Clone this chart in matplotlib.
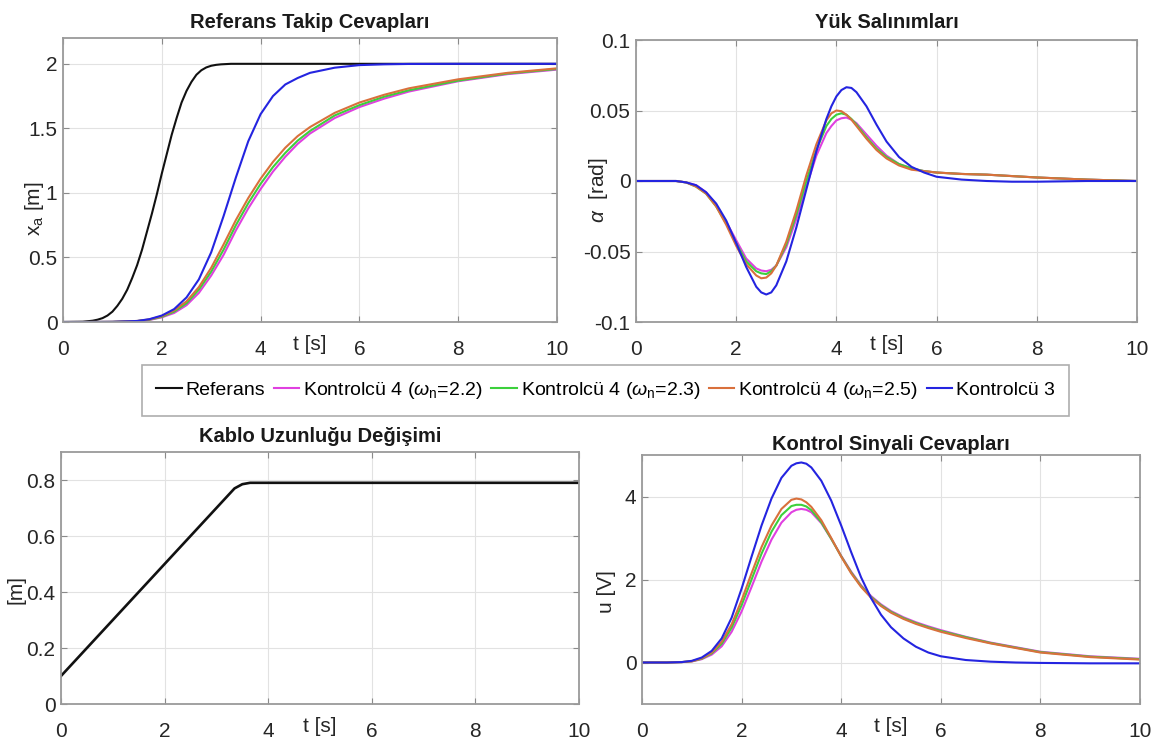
import matplotlib
matplotlib.use("Agg")
import matplotlib.pyplot as plt
from matplotlib.lines import Line2D

plt.rcParams['font.family'] = ['Liberation Sans', 'DejaVu Sans']
plt.rcParams['mathtext.fontset'] = 'custom'
plt.rcParams['mathtext.rm'] = 'Liberation Sans'
plt.rcParams['mathtext.it'] = 'Liberation Sans:italic'

# --- Referans takip (x_a) ---
t_ref = [0, 0.4, 0.6, 0.7, 0.8, 0.9, 1.0, 1.1, 1.2, 1.3, 1.4, 1.5, 1.6, 1.7, 1.8, 1.9, 2.0,
         2.1, 2.2, 2.3, 2.4, 2.5, 2.6, 2.7, 2.8, 2.9, 3.0, 3.1, 3.2, 3.4, 3.6, 10]
x_ref = [0, 0.002, 0.01, 0.018, 0.03, 0.05, 0.08, 0.125, 0.18, 0.25, 0.34, 0.44, 0.56, 0.7,
         0.84, 0.99, 1.15, 1.3, 1.45, 1.58, 1.7, 1.79, 1.86, 1.915, 1.95, 1.972, 1.985, 1.992,
         1.996, 2.0, 2.0, 2.0]

t_x = [0, 0.5, 1.0, 1.5, 1.75, 2.0, 2.25, 2.5, 2.75, 3.0, 3.25, 3.5, 3.75, 4.0, 4.25, 4.5,
       4.75, 5.0, 5.5, 6.0, 6.5, 7.0, 8.0, 9.0, 10]
x_k22 = [0, 0, 0.001, 0.006, 0.016, 0.036, 0.07, 0.13, 0.225, 0.36, 0.52, 0.71, 0.88, 1.03,
         1.165, 1.28, 1.38, 1.46, 1.58, 1.665, 1.73, 1.785, 1.865, 1.92, 1.955]
x_k23 = [0, 0, 0.001, 0.007, 0.018, 0.04, 0.08, 0.145, 0.25, 0.39, 0.56, 0.75, 0.92, 1.07,
         1.2, 1.31, 1.405, 1.48, 1.6, 1.68, 1.745, 1.795, 1.87, 1.925, 1.96]
x_k25 = [0, 0, 0.001, 0.008, 0.02, 0.045, 0.09, 0.16, 0.27, 0.42, 0.6, 0.79, 0.96, 1.11,
         1.24, 1.35, 1.44, 1.51, 1.62, 1.7, 1.76, 1.81, 1.88, 1.93, 1.965]
x_k3 = [0, 0, 0.001, 0.008, 0.022, 0.05, 0.1, 0.19, 0.33, 0.54, 0.82, 1.12, 1.4, 1.61,
        1.75, 1.84, 1.89, 1.93, 1.97, 1.99, 1.996, 1.999, 2.0, 2.0, 2.0]

# --- Yük salınımı (alpha) ---
t_a = [0, 0.5, 0.8, 1.0, 1.2, 1.4, 1.6, 1.8, 2.0, 2.2, 2.4, 2.5, 2.6, 2.7, 2.8, 3.0, 3.2,
       3.4, 3.6, 3.8, 3.9, 4.0, 4.1, 4.2, 4.3, 4.4, 4.6, 4.8, 5.0, 5.25, 5.5, 5.75, 6.0, 6.5,
       7.0, 7.5, 8.0, 9.0, 10]
a_k22 = [0, 0, 0, -0.001, -0.003, -0.008, -0.017, -0.029, -0.042, -0.055, -0.062, -0.0635,
         -0.064, -0.063, -0.06, -0.047, -0.027, -0.004, 0.018, 0.034, 0.039, 0.043, 0.0445,
         0.045, 0.0435, 0.041, 0.033, 0.025, 0.018, 0.012, 0.009, 0.007, 0.006, 0.005, 0.0045,
         0.0035, 0.0025, 0.001, 0]
a_k23 = [0, 0, 0, -0.001, -0.004, -0.009, -0.018, -0.03, -0.044, -0.057, -0.064, -0.0655,
         -0.066, -0.064, -0.06, -0.045, -0.024, 0.0, 0.022, 0.039, 0.044, 0.047, 0.048, 0.047,
         0.044, 0.04, 0.031, 0.023, 0.017, 0.012, 0.009, 0.007, 0.006, 0.005, 0.0045, 0.0035,
         0.0025, 0.001, 0]
a_k25 = [0, 0, 0, -0.001, -0.004, -0.009, -0.018, -0.031, -0.046, -0.059, -0.067, -0.069,
         -0.0685, -0.0655, -0.06, -0.043, -0.021, 0.004, 0.026, 0.043, 0.048, 0.05, 0.0495,
         0.047, 0.0435, 0.039, 0.03, 0.022, 0.016, 0.011, 0.008, 0.007, 0.006, 0.005, 0.0045,
         0.0035, 0.0025, 0.001, 0]
a_k3 = [0, 0, 0, -0.001, -0.003, -0.008, -0.016, -0.028, -0.044, -0.061, -0.075, -0.079,
        -0.0805, -0.079, -0.074, -0.057, -0.033, -0.006, 0.021, 0.044, 0.053, 0.06, 0.0645,
        0.0665, 0.066, 0.063, 0.053, 0.04, 0.028, 0.017, 0.01, 0.006, 0.003, 0.001, 0,
        -0.0005, -0.0005, 0, 0]

# --- Kablo uzunluğu ---
t_l = [0, 3.35, 3.5, 3.65, 10]
l_kablo = [0.1, 0.77, 0.785, 0.79, 0.79]

# --- Kontrol sinyali (u) ---
t_u = [0, 0.5, 0.8, 1.0, 1.2, 1.4, 1.6, 1.8, 2.0, 2.2, 2.4, 2.6, 2.8, 3.0, 3.1, 3.2, 3.3,
       3.4, 3.6, 3.8, 4.0, 4.2, 4.4, 4.6, 4.8, 5.0, 5.25, 5.5, 5.75, 6.0, 6.5, 7.0, 7.5, 8.0,
       9.0, 10]
u_k22 = [0, 0, 0.01, 0.025, 0.08, 0.19, 0.39, 0.74, 1.23, 1.82, 2.43, 2.96, 3.37, 3.62, 3.68,
         3.7, 3.68, 3.62, 3.36, 2.98, 2.57, 2.19, 1.86, 1.6, 1.4, 1.24, 1.09, 0.97, 0.87, 0.78,
         0.62, 0.48, 0.37, 0.26, 0.15, 0.09]
u_k23 = [0, 0, 0.01, 0.03, 0.09, 0.22, 0.45, 0.84, 1.38, 2.0, 2.62, 3.15, 3.55, 3.77, 3.8,
         3.8, 3.76, 3.67, 3.38, 2.98, 2.56, 2.17, 1.84, 1.58, 1.38, 1.22, 1.07, 0.95, 0.85,
         0.76, 0.61, 0.47, 0.36, 0.25, 0.14, 0.08]
u_k25 = [0, 0, 0.01, 0.03, 0.1, 0.24, 0.5, 0.92, 1.5, 2.15, 2.78, 3.3, 3.7, 3.92, 3.95,
         3.93, 3.86, 3.75, 3.43, 3.0, 2.55, 2.15, 1.82, 1.56, 1.36, 1.2, 1.05, 0.93, 0.83,
         0.74, 0.59, 0.46, 0.35, 0.24, 0.13, 0.07]
u_k3 = [0, 0, 0.01, 0.04, 0.12, 0.28, 0.58, 1.08, 1.78, 2.55, 3.3, 3.95, 4.45, 4.74, 4.8,
        4.82, 4.79, 4.7, 4.38, 3.9, 3.3, 2.66, 2.05, 1.55, 1.15, 0.85, 0.58, 0.38, 0.24, 0.15,
        0.06, 0.02, 0.0, -0.01, -0.02, -0.02]

labels = ['Referans', r'Kontrolcü 4 ($\omega_\mathrm{n}$=2.2)', r'Kontrolcü 4 ($\omega_\mathrm{n}$=2.3)',
          r'Kontrolcü 4 ($\omega_\mathrm{n}$=2.5)', 'Kontrolcü 3']
colors = ['#111111', '#e040e0', '#3cd03c', '#d9703c', '#2424e0']
lw = 1.5

fig = plt.figure(figsize=(11.64, 7.52), dpi=100)
W, H = 1164, 752


def axes_px(left, top, right, bottom):
    return fig.add_axes([left / W, 1 - bottom / H, (right - left) / W, (bottom - top) / H])


def style(ax, ylim, yticks, yticklabels, title, title_px):
    ax.set_xlim(0, 10)
    ax.set_ylim(*ylim)
    ax.set_xticks([0, 2, 4, 6, 8, 10])
    ax.set_yticks(yticks)
    ax.set_yticklabels(yticklabels)
    ax.grid(True, color='#e2e2e2', lw=0.8)
    ax.set_axisbelow(True)
    for s in ax.spines.values():
        s.set_color('#9a9a9a')
        s.set_linewidth(1.3)
    ax.tick_params(direction='in', length=4, width=0.8, color='#8a8a8a', top=True, right=True,
                   labelsize=15, labelcolor='#262626')
    ax.tick_params(axis='x', pad=13)
    ax.tick_params(axis='y', pad=4)
    h = ax.get_position().height * H
    ax.text(0.5, 1 + title_px / h, title, transform=ax.transAxes, ha='center', va='center',
            fontsize=14.5, fontweight='bold', color='#1a1a1a')
    ax.text(5, -22 / h, 't [s]', transform=ax.get_xaxis_transform(), ha='center', va='center',
            fontsize=15, color='#262626')


# Referans takip cevapları
ax1 = axes_px(63, 38, 557, 322)
ax1.plot(t_ref, x_ref, color=colors[0], lw=lw)
ax1.plot(t_x, x_k22, color=colors[1], lw=lw)
ax1.plot(t_x, x_k23, color=colors[2], lw=lw)
ax1.plot(t_x, x_k25, color=colors[3], lw=lw)
ax1.plot(t_x, x_k3, color=colors[4], lw=lw)
style(ax1, (0, 2.2), [0, 0.5, 1, 1.5, 2], ['0', '0.5', '1', '1.5', '2'],
      'Referans Takip Cevapları', 16)

# Yük salınımları
ax2 = axes_px(636, 40, 1137, 322)
ax2.plot(t_a, a_k22, color=colors[1], lw=lw)
ax2.plot(t_a, a_k23, color=colors[2], lw=lw)
ax2.plot(t_a, a_k25, color=colors[3], lw=lw)
ax2.plot(t_a, a_k3, color=colors[4], lw=lw)
style(ax2, (-0.1, 0.1), [-0.1, -0.05, 0, 0.05, 0.1], ['-0.1', '-0.05', '0', '0.05', '0.1'],
      'Yük Salınımları', 18)

# Kablo uzunluğu değişimi
ax3 = axes_px(61, 452, 579, 704)
ax3.plot(t_l, l_kablo, color=colors[0], lw=lw + 0.4)
style(ax3, (0, 0.9), [0, 0.2, 0.4, 0.6, 0.8], ['0', '0.2', '0.4', '0.6', '0.8'],
      'Kablo Uzunluğu Değişimi', 15)

# Kontrol sinyali cevapları
ax4 = axes_px(642, 455, 1140, 704)
ax4.plot(t_u, u_k22, color=colors[1], lw=lw)
ax4.plot(t_u, u_k23, color=colors[2], lw=lw)
ax4.plot(t_u, u_k25, color=colors[3], lw=lw)
ax4.plot(t_u, u_k3, color=colors[4], lw=lw)
style(ax4, (-1, 5), [0, 2, 4], ['0', '2', '4'], 'Kontrol Sinyali Cevapları', 11)

# eksen etiketleri
ylab = dict(rotation=90, ha='center', va='center', fontsize=15, color='#262626')
fig.text(34 / W, 1 - 209 / H, r'x$_\mathrm{a}$ [m]', **ylab)
fig.text(598 / W, 1 - 190 / H, r'$\alpha$  [rad]', **ylab)
fig.text(16 / W, 1 - 590 / H, '[m]', **ylab)
fig.text(606 / W, 1 - 592 / H, 'u [V]', **ylab)

handles = [Line2D([], [], color=c, lw=lw) for c in colors]
leg = fig.legend(handles, labels, loc='center', ncol=5,
                 bbox_to_anchor=(605.5 / W, 1 - 390.5 / H),
                 fontsize=14, frameon=True, fancybox=False, edgecolor='#9a9a9a',
                 handlelength=1.3, handletextpad=0.2, columnspacing=0.45, borderpad=0.75,
                 borderaxespad=0)
leg.get_frame().set_linewidth(1.2)

fig.savefig('out.png', dpi=100)
